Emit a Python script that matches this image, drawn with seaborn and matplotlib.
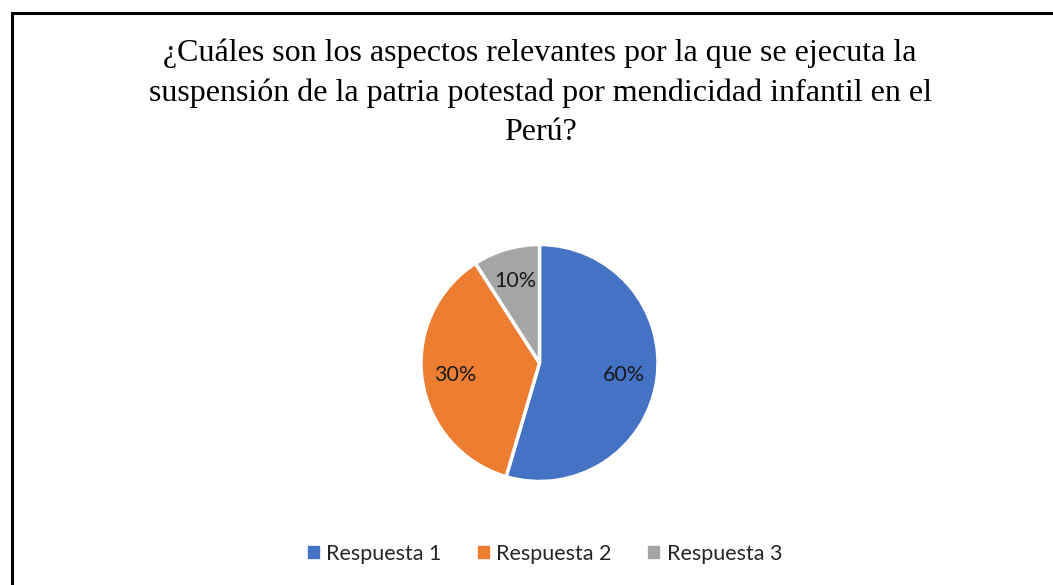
import matplotlib
matplotlib.use("Agg")
import matplotlib.pyplot as plt
import matplotlib.patches as mpatches
import seaborn as sns

categories = ['Respuesta 1', 'Respuesta 2', 'Respuesta 3']
values = [6, 4, 1]
pct_labels = ['60%', '30%', '10%']
colors = ['#4472C4', '#ED7D31', '#A5A5A5']
title = ('¿Cuáles son los aspectos relevantes por la que se ejecuta la\n'
         'suspensión de la patria potestad por mendicidad infantil en el\n'
         'Perú?')

sns.set_theme(style="white")
plt.rcParams['font.family'] = ['Lato', 'DejaVu Sans']

W, H = 1053, 585
fig = plt.figure(figsize=(W / 100, H / 100), dpi=100)

# outer frame (right and bottom edges run off the image)
fig.add_artist(mpatches.Rectangle((12 / W, -0.05), 1.1, 1 - 13 / H + 0.05,
                                  transform=fig.transFigure, fill=False,
                                  edgecolor='black', linewidth=2.2))

cx, cy, r = 539.5, 363, 118.5
ax = fig.add_axes([(cx - r) / W, (H - cy - r) / H, 2 * r / W, 2 * r / H])

it = iter(pct_labels)
wedges, _, autotexts = ax.pie(values, colors=colors, startangle=90, counterclock=False,
                              autopct=lambda p: next(it), pctdistance=0.72,
                              wedgeprops=dict(edgecolor='white', linewidth=2.5),
                              textprops=dict(fontsize=15.5, color='#1a1a1a'))
ax.set_xlim(-1.0, 1.0)
ax.set_ylim(-1.0, 1.0)
ax.set_aspect('equal')
ax.axis('off')

fig.text(0.513, 1 - 93 / H, title, ha='center', va='center', fontsize=23,
         family='Liberation Serif', linespacing=1.45, color='black')

handles = [mpatches.Patch(color=c, label=l) for c, l in zip(colors, categories)]
fig.legend(handles=handles, loc='center', bbox_to_anchor=(545 / W, 1 - 554 / H), ncol=3,
           frameon=False, fontsize=15.5, handlelength=0.5, handleheight=0.5,
           handletextpad=0.35, columnspacing=1.7)

fig.savefig('out.png', dpi=100, facecolor='white')
